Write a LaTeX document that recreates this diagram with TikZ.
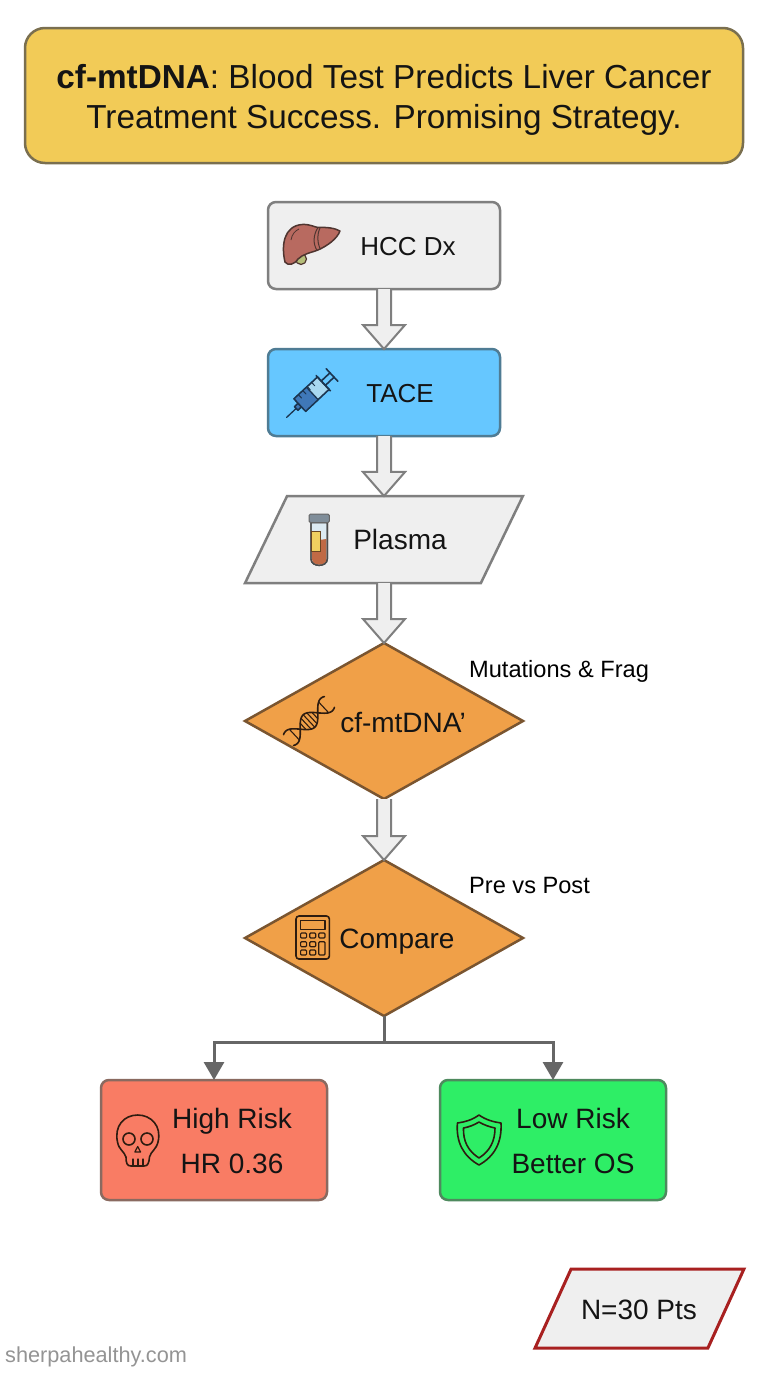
\documentclass[tikz,border=0pt]{standalone}
\usepackage{fontspec}
\setmainfont{Liberation Sans}
\usetikzlibrary{calc,shapes.geometric,arrows.meta}
\definecolor{ink}{HTML}{141414}
\definecolor{titlefill}{HTML}{F2CB57}
\definecolor{titleline}{HTML}{7A6F4F}
\definecolor{greyfill}{HTML}{EFEFEF}
\definecolor{greyline}{HTML}{7F7F7F}
\definecolor{bluefill}{HTML}{66C7FF}
\definecolor{blueline}{HTML}{4F7C94}
\definecolor{orangefill}{HTML}{F0A048}
\definecolor{orangeline}{HTML}{7A5530}
\definecolor{redfill}{HTML}{F97C64}
\definecolor{redline}{HTML}{8A6A60}
\definecolor{greenfill}{HTML}{2EEE66}
\definecolor{greenline}{HTML}{4E8A5E}
\definecolor{noteline}{HTML}{A82020}
\definecolor{icondark}{HTML}{2E1C10}
\definecolor{navy}{HTML}{1B3550}
\definecolor{liverfill}{HTML}{B86A60}
\definecolor{liverline}{HTML}{4F3530}
\definecolor{galbladder}{HTML}{B5BE7A}
\definecolor{liquid}{HTML}{3F78B8}
\definecolor{barrel}{HTML}{A8D8F0}
\definecolor{tubeglass}{HTML}{DCEAF2}
\definecolor{blood}{HTML}{C06A45}
\definecolor{tubelabel}{HTML}{F0D060}
\definecolor{tubecap}{HTML}{7F8D99}
\tikzset{
  boxbase/.style={draw,line width=2.5pt,inner sep=0pt,outer sep=0pt,rounded corners=8pt,minimum width=232pt},
  flowbox/.style={boxbase,minimum height=87pt},
  riskbox/.style={boxbase,minimum width=226pt,minimum height=120pt},
  paral/.style={draw,line width=2.5pt,inner sep=0pt,outer sep=0pt,trapezium,trapezium stretches=true,fill=greyfill},
  decision/.style={diamond,draw=orangeline,fill=orangefill,line width=2.5pt,inner sep=0pt,outer sep=0pt,minimum width=278pt,minimum height=156pt},
  lab/.style={anchor=base,text=ink,font=\fontsize{26}{30}\selectfont,inner sep=0pt},
  biglab/.style={anchor=base,text=ink,font=\fontsize{28}{32}\selectfont,inner sep=0pt},
  smalllab/.style={anchor=base west,text=black,font=\fontsize{23.6}{27}\selectfont,inner sep=0pt},
  fatarrow/.style={draw=greyline,fill=greyfill,line width=2pt,
    to path={let \p1=(\tikztostart),\p2=(\tikztotarget) in
      ({\x1-7pt},{\y1}) -- ({\x1-7pt},{\y2+24pt}) -- ({\x1-21pt},{\y2+24pt}) -- ({\x2},{\y2})
      -- ({\x1+21pt},{\y2+24pt}) -- ({\x1+7pt},{\y2+24pt}) -- ({\x1+7pt},{\y1})}},
  splitline/.style={draw=black!60,line width=3pt,-{Triangle[length=18pt,width=20pt]}},
  icon/.style={draw=icondark,line width=1.6pt,line join=round,line cap=round}
}
\begin{document}
\begin{tikzpicture}[x=1pt,y=-1pt]
\path[use as bounding box,fill=white] (0,0) rectangle (768,1376);

\node[draw=titleline,fill=titlefill,line width=2.5pt,rounded corners=20pt,minimum width=718pt,minimum height=135pt,inner sep=0pt] (title) at (384,95.5) {};
\node[inner sep=0pt,align=center,text=ink,font=\fontsize{33.3}{40}\selectfont] (ttitle) at (384,100)
  {\textbf{cf-mtDNA}: Blood Test Predicts Liver Cancer\\Treatment Success. Promising Strategy.};

\node[flowbox,draw=greyline,fill=greyfill] (hcc) at (384,245.5) {};
\node[flowbox,draw=blueline,fill=bluefill] (tace) at (384,392.5) {};
\node[paral,draw=greyline,trapezium left angle=78.4,trapezium right angle=101.6,minimum width=278pt,minimum height=87pt] (plasma) at (384,539.5) {\phantom{x}};
\node[decision] (mt) at (384,721) {};
\node[decision] (cmp) at (384,938) {};
\node[riskbox,draw=redline,fill=redfill] (high) at (214,1140) {};
\node[riskbox,draw=greenline,fill=greenfill] (low) at (553,1140) {};
\node[paral,draw=noteline,line width=3pt,trapezium left angle=76,trapezium right angle=104,minimum width=209pt,minimum height=79pt] (note) at (639.5,1308.5) {\phantom{x}};

\draw[fatarrow] (hcc.south) to (tace.north);
\draw[fatarrow] (tace.south) to (plasma.north);
\draw[fatarrow] (plasma.south) to (mt.north);
\draw[fatarrow] (mt.south) to (cmp.north);

\coordinate (fork) at (384,1042);
\draw[draw=black!60,line width=3pt] (cmp.south) -- (fork);
\draw[splitline] (fork) -| (high.north);
\draw[splitline] (fork) -| (low.north);

\node[lab] (thcc) at (408,255) {HCC Dx};
\node[lab] (ttace) at (400,402) {TACE};
\node[biglab] (tplasma) at (400,549.5) {Plasma};
\node[biglab] (tmt) at (403,732.5) {cf-mtDNA’};
\node[biglab] (tcmp) at (397,948.5) {Compare};
\node[biglab] (thigh1) at (232,1128.5) {High Risk};
\node[biglab] (thigh2) at (232,1173) {HR 0.36};
\node[biglab] (tlow1) at (573,1128.5) {Low Risk};
\node[biglab] (tlow2) at (573,1173) {Better OS};
\node[biglab] (tnote) at (639,1319.5) {N=30 Pts};
\node[smalllab] (tmut) at (469,677) {Mutations \& Frag};
\node[smalllab] (tpre) at (469,893) {Pre vs Post};
\node[anchor=base west,inner sep=0pt,text=black!42,font=\fontsize{21.7}{25}\selectfont] (brand) at (5,1362) {sherpahealthy.com};

% liver
\draw[draw=liverline,line width=1.2pt,fill=galbladder] (301,259) circle (5.5);
\draw[draw=liverline,line width=1.5pt,fill=liverfill,line join=round]
  (285,262) .. controls (281,245) and (284,226) .. (302,224.5)
  .. controls (310,224) and (314,227) .. (318,227.5)
  .. controls (326,227) and (335,228) .. (340,231)
  .. controls (337,239) and (327,246) .. (318,250)
  .. controls (310,253) and (303,254) .. (298,259)
  .. controls (294,265) and (288,266) .. (285,262) -- cycle;
\draw[draw=liverline,line width=1pt] (318,227.5) .. controls (313,235) and (313,244) .. (317,250.5);
\draw[draw=liverline,line width=1pt] (320,228) .. controls (317,235) and (317,241) .. (320,248.5);
\draw[draw=liverline,line width=.8pt] (291,240) .. controls (292,234) and (295,231) .. (299,229);

% syringe
\begin{scope}[shift={(286.7,417.3)},rotate=43]
  \draw[icon,draw=navy,line width=1.3pt] (0,0) -- (13,0);
  \draw[icon,draw=navy,fill=liquid] (13,-2.5) rectangle (18,2.5);
  \draw[icon,draw=navy,fill=barrel] (18,-8.5) rectangle (50,8.5);
  \draw[draw=navy,line width=1.3pt,fill=liquid] (18,-8.5) rectangle (35,8.5);
  \foreach \t in {24,30,36,42}{\draw[icon,draw=navy,line width=1pt] (\t,-8.5) -- (\t,-4);}
  \draw[icon,draw=navy] (50,-10.5) -- (50,10.5);
  \draw[icon,draw=navy] (50,-3) -- (62,-3) (50,3) -- (62,3);
  \draw[icon,draw=navy] (62,-8.5) -- (62,8.5);
\end{scope}

% test tube
\draw[draw=black!70,line width=1.4pt,fill=tubeglass]
  (311,522.7) -- (311,559) .. controls (311,567.5) and (327.3,567.5) .. (327.3,559) -- (327.3,522.7) -- cycle;
\fill[blood] (312,541) -- (326.4,539) -- (326.4,559) .. controls (326.4,566.5) and (312,566.5) .. (312,559) -- cycle;
\draw[draw=black!70,line width=1.4pt] (311,522.7) -- (311,559) .. controls (311,567.5) and (327.3,567.5) .. (327.3,559) -- (327.3,522.7);
\draw[draw=black!45!brown,line width=1pt,fill=tubelabel] (311,531) rectangle (320.7,551.5);
\draw[draw=black!60,line width=1pt,fill=tubecap,rounded corners=1.5pt] (309,514) rectangle (329.3,522.7);

% dna
\begin{scope}[shift={(309,721)},rotate=43]
  \draw[icon] plot[domain=-28:28,samples=45,smooth] (\x,{8.5*cos(\x*7.5)});
  \draw[icon] plot[domain=-28:28,samples=45,smooth] (\x,{-8.5*cos(\x*7.5)});
  \foreach \t in {-8,-4,0,4,8,-20,20}{
    \draw[icon,line width=1.1pt] (\t,{8.5*cos(\t*7.5)}) -- (\t,{-8.5*cos(\t*7.5)});}
\end{scope}

% calculator
\draw[icon] (296,916) [rounded corners=3pt] rectangle (329.4,959);
\draw[icon,line width=1.3pt] (300.6,920.7) rectangle (325,929.3);
\foreach \cx in {300.6,309.7}{\foreach \cy in {933,941.7,950}{
  \draw[icon,line width=1.2pt,rounded corners=1pt] (\cx,\cy) rectangle ++(6,5);}}
\draw[icon,line width=1.2pt,rounded corners=1pt] (318.8,933) rectangle ++(6.2,5);
\draw[icon,line width=1.2pt,rounded corners=1pt] (318.8,941.7) rectangle (325,955);

% skull
\draw[icon] (126,1157) .. controls (124,1151) and (119,1150) .. (117.5,1142)
  .. controls (114,1126) and (124,1115) .. (137.7,1115)
  .. controls (151,1115) and (162,1126) .. (158,1142)
  .. controls (156,1150) and (151,1151) .. (149.5,1157)
  .. controls (149,1163) and (148,1166) .. (144,1166) -- (131,1166)
  .. controls (127,1166) and (126,1163) .. (126,1157) -- cycle;
\draw[icon] (129,1139) circle (6);
\draw[icon] (147,1139) circle (6);
\draw[icon,line width=1.2pt] (137.7,1146.5) -- (134.8,1152) -- (140.6,1152) -- cycle;
\draw[icon,line width=1.2pt] (133,1159) -- (133,1166) (138,1159) -- (138,1166) (143,1159) -- (143,1166);

% shield
\draw[icon] (479,1115) .. controls (486,1120) and (494,1122) .. (501,1123)
  .. controls (502,1142) and (495,1156) .. (479,1165)
  .. controls (463,1156) and (456,1142) .. (457.4,1123)
  .. controls (465,1122) and (472,1120) .. (479,1115) -- cycle;
\draw[icon] (479,1122) .. controls (484,1125) and (490,1127) .. (495,1128)
  .. controls (495,1141) and (490,1151) .. (479,1158)
  .. controls (468,1151) and (463,1141) .. (463.5,1128)
  .. controls (469,1127) and (474,1125) .. (479,1122) -- cycle;
\end{tikzpicture}
\end{document}
